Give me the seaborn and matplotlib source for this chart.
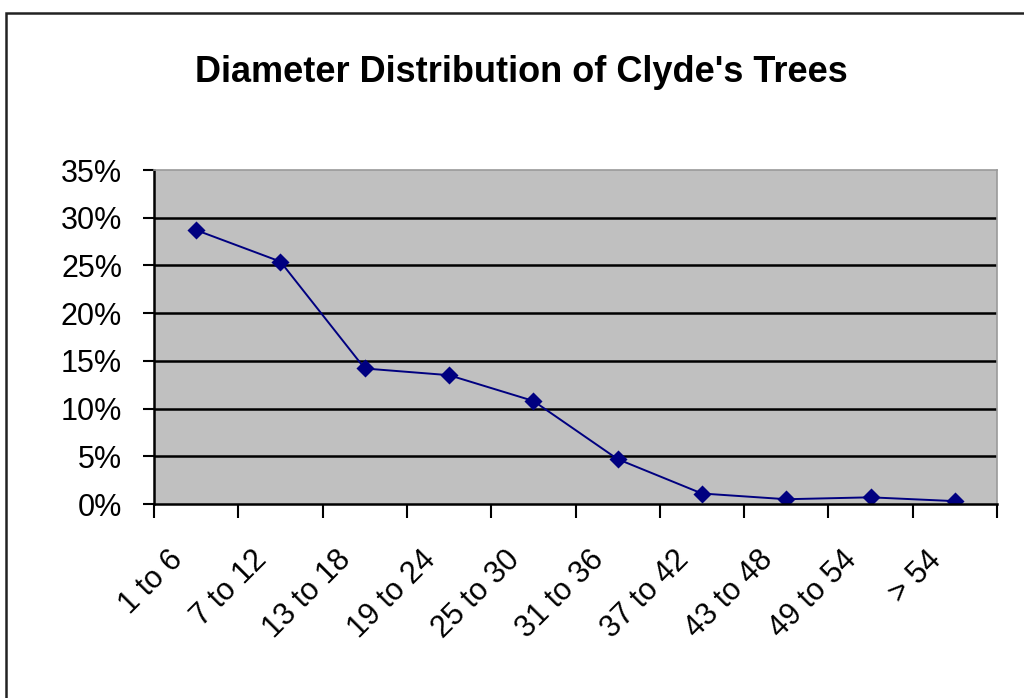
import numpy as np
import pandas as pd
import matplotlib.pyplot as plt
import matplotlib.transforms as mtransforms
import seaborn as sns
from matplotlib.patches import Rectangle
from matplotlib.ticker import FuncFormatter, FixedLocator

# dades llegides del gràfic original
classes = ["1 to 6", "7 to 12", "13 to 18", "19 to 24", "25 to 30",
           "31 to 36", "37 to 42", "43 to 48", "49 to 54", "> 54"]
percentatges = [28.7, 25.4, 14.2, 13.5, 10.8, 4.7, 1.1, 0.5, 0.7, 0.3]
titol = "Diameter Distribution of Clyde's Trees"

df = pd.DataFrame({"classe": classes, "pct": percentatges})

sns.set_style("white")
plt.rcParams['font.family'] = ['Liberation Sans', 'DejaVu Sans']
plt.rcParams['text.color'] = 'black'
plt.rcParams['xtick.labelcolor'] = 'black'
plt.rcParams['ytick.labelcolor'] = 'black'

fig = plt.figure(figsize=(10.24, 6.98), dpi=100)
ax = fig.add_axes([154 / 1024, 1 - 504 / 698, 843 / 1024, 334 / 698])
ax.set_facecolor("#c0c0c0")

sns.pointplot(data=df, x="classe", y="pct", order=classes, color="#000080",
              markers="D", markersize=8.5, linewidth=1.4, ax=ax)

ax.set_xlim(-0.5, len(classes) - 0.5)
ax.set_ylim(0, 35)
ax.set_yticks(np.arange(0, 36, 5))
ax.yaxis.set_major_formatter(FuncFormatter(lambda v, p: f"{v:.0f}%"))

# línies de graella negres (excepte la vora superior)
for v in range(5, 35, 5):
    ax.axhline(v, color="black", lw=1.8, zorder=0.5)

ax.set_xlabel("")
ax.set_ylabel("")

# marques a les fronteres entre categories
ax.xaxis.set_minor_locator(FixedLocator(np.arange(-0.5, len(classes), 1.0)))
ax.tick_params(axis="x", which="minor", length=10, width=1.5, color="black",
               direction="out", bottom=True)
ax.tick_params(axis="x", which="major", length=0, pad=37, labelsize=22,
               labelcolor="black")
ax.tick_params(axis="y", which="major", length=8, width=1.5, color="black",
               direction="out", left=True, labelsize=22, pad=15,
               labelcolor="black")
desplac = mtransforms.ScaledTranslation(-18 / 100, 0, fig.dpi_scale_trans)
for lab in ax.get_xticklabels():
    lab.set_rotation(45)
    lab.set_ha("right")
    lab.set_va("center")
    lab.set_rotation_mode("anchor")
    lab.set_transform(lab.get_transform() + desplac)

for s in ["left", "bottom"]:
    ax.spines[s].set_color("black")
    ax.spines[s].set_linewidth(1.8)
for s in ["top", "right"]:
    ax.spines[s].set_color("#9a9a9a")
    ax.spines[s].set_linewidth(1.2)

fig.text(521 / 1024, 1 - 72 / 698, titol, ha="center", va="center",
         fontsize=26, fontweight="bold", color="black")

# marc exterior del gràfic
fig.add_artist(Rectangle((6 / 1024, -0.2), 1.2, 1.2 - 13 / 698,
                         transform=fig.transFigure, fill=False,
                         edgecolor="#222222", lw=1.8))

fig.savefig("out.png", dpi=100)
